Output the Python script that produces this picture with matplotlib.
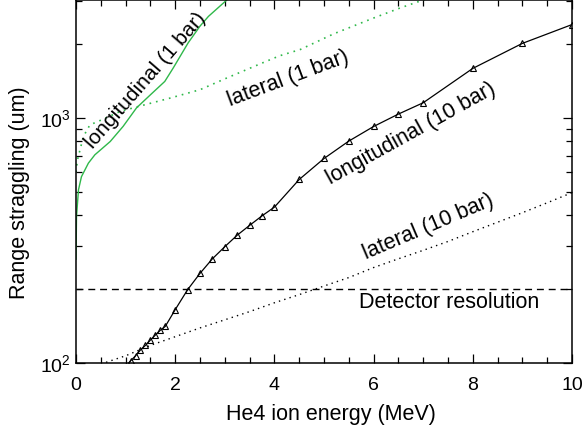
import numpy as np
import matplotlib
matplotlib.use('Agg')
import matplotlib.pyplot as plt
from matplotlib.ticker import LogLocator, MultipleLocator, NullFormatter, LogFormatterSciNotation

plt.rcParams['font.family'] = ['Liberation Sans', 'DejaVu Sans']
plt.rcParams['mathtext.fontset'] = 'custom'
plt.rcParams['mathtext.rm'] = 'Liberation Sans'
plt.rcParams['mathtext.it'] = 'Liberation Sans'

# longitudinal straggling, 1 bar (green solid)
long1_e = [0.0, 0.01, 0.05, 0.11, 0.25, 0.38, 0.69, 0.95, 1.22, 1.5, 1.79, 1.96, 2.26, 2.5, 2.67, 3.04, 3.3]
long1_s = [265, 395, 508, 575, 653, 706, 800, 922, 1097, 1240, 1406, 1595, 2018, 2363, 2589, 3020, 3400]

# lateral straggling, 1 bar (green dotted)
lat1_e = [0.0, 0.03, 0.15, 0.28, 0.52, 0.89, 1.32, 1.9, 2.5, 3.04, 3.84, 4.11, 4.52, 5.2, 6.0, 6.53, 7.0, 7.5]
lat1_s = [600, 674, 839, 935, 981, 1061, 1120, 1203, 1301, 1452, 1700, 1790, 1897, 2200, 2550, 2800, 3020, 3300]

# longitudinal straggling, 10 bar (black, triangles)
long10_e = [1.0, 1.1, 1.2, 1.3, 1.4, 1.5, 1.6, 1.7, 1.8, 2.0, 2.25, 2.5, 2.75, 3.0, 3.25, 3.5, 3.75, 4.0,
            4.5, 5.0, 5.5, 6.0, 6.5, 7.0, 8.0, 9.0, 10.0]
long10_s = [97, 102, 107, 113, 118, 124, 130, 136, 141, 165, 199, 232, 266, 298, 332, 364, 398, 432,
            560, 682, 803, 921, 1035, 1151, 1589, 2010, 2398]

# lateral straggling, 10 bar (black dotted)
lat10_e = [0.5, 1.0, 1.5, 2.0, 2.5, 3.0, 3.5, 4.0, 4.5, 5.0, 5.5, 6.0, 6.5, 7.0, 7.5, 8.0, 8.5, 9.0, 9.5, 10.0]
lat10_s = [99, 107, 118, 128, 139, 150, 162, 176, 190, 206, 223, 245, 266, 288, 313, 343, 375, 410, 450, 495]

detector_res = 200
green = '#2fb84a'

fig = plt.figure(figsize=(5.82, 4.4), dpi=100)
ax = fig.add_axes([76/582, 77/440, 496/582, 363/440])

ax.plot(long1_e, long1_s, color=green, lw=1.0)
ax.plot(lat1_e, lat1_s, color=green, lw=1.2, ls=(0, (1, 3)))
ax.plot(long10_e, long10_s, color='black', lw=0.9, marker='^', ms=3.8, mfc='none', mew=0.8)
ax.plot(lat10_e, lat10_s, color='black', lw=1.0, ls=(0, (1, 3)))
ax.axhline(detector_res, color='black', lw=1.0, ls=(0, (5, 3.5)))

ax.set_yscale('log')
ax.set_xlim(0, 10)
ax.set_ylim(100, 3020)

ax.xaxis.set_major_locator(MultipleLocator(2))
ax.xaxis.set_minor_locator(MultipleLocator(0.5))
ax.yaxis.set_major_locator(LogLocator(base=10))
ax.yaxis.set_minor_locator(LogLocator(base=10, subs=np.arange(2, 10)))
ax.yaxis.set_major_formatter(LogFormatterSciNotation())
ax.yaxis.set_minor_formatter(NullFormatter())

ax.tick_params(which='both', direction='in', top=True, right=True, labelsize=14)
ax.tick_params(which='major', length=6.5, width=0.9)
ax.tick_params(which='minor', length=4, width=0.9)
ax.tick_params(axis='x', pad=10)
ax.tick_params(axis='y', pad=4)
for s in ax.spines.values():
    s.set_linewidth(1.1)

ax.set_xlabel('He4 ion energy (MeV)', fontsize=15.5)
ax.set_ylabel('Range straggling (um)', fontsize=15.5)
ax.xaxis.set_label_coords(0.514, -0.112)
ax.yaxis.set_label_coords(-0.093, 0.47)

ax.text(1.40, 1420, 'longitudinal (1 bar)', rotation=49, fontsize=15, ha='center', va='center')
ax.text(4.27, 1440, 'lateral (1 bar)', rotation=20.5, fontsize=15.5, ha='center', va='center')
ax.text(6.76, 860, 'longitudinal (10 bar)', rotation=29, fontsize=15.5, ha='center', va='center')
ax.text(7.1, 360, 'lateral (10 bar)', rotation=23, fontsize=15.5, ha='center', va='center')
ax.text(7.52, 177, 'Detector resolution', fontsize=15.5, ha='center', va='center')

fig.savefig('out.png', dpi=100)
